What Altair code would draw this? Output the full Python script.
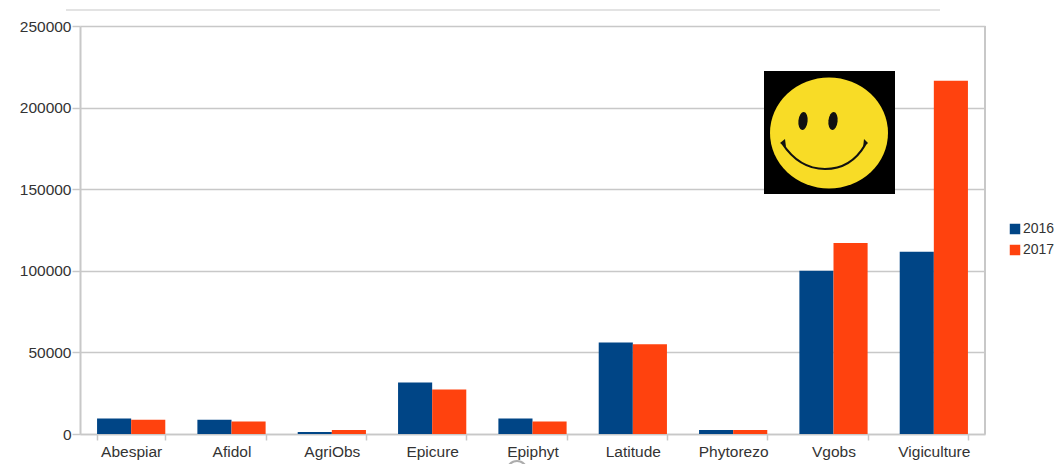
import altair as alt
import pandas as pd
from urllib.parse import quote

categories = ["Abespiar", "Afidol", "AgriObs", "Epicure", "Epiphyt", "Latitude", "Phytorezo", "Vgobs", "Vigiculture"]
values_2016 = [9500, 8700, 1200, 31500, 9500, 56000, 2500, 100000, 111700]
values_2017 = [8800, 7700, 2500, 27300, 7700, 55000, 2500, 117000, 216500]
series_names = ["2016", "2017"]
series_colors = ["#004586", "#ff420e"]
y_ticks = [0, 50000, 100000, 150000, 200000, 250000]

rows = []
for c, a, b in zip(categories, values_2016, values_2017):
    rows.append({"cat": c, "year": "2016", "v": a})
    rows.append({"cat": c, "year": "2017", "v": b})
df = pd.DataFrame(rows)

W, H = 905, 408
GRID = "#c8c8c8"
FONT = "Liberation Sans"

bars = alt.Chart(df).mark_bar(stroke=None).encode(
    x=alt.X("cat:N", sort=categories, title=None,
            scale=alt.Scale(paddingInner=0.32, paddingOuter=0.17),
            axis=alt.Axis(labelAngle=0, labelFont=FONT, labelFontSize=15.5, labelColor="#333333",
                          labelPadding=4, tickBand="extent", tickSize=6, tickColor=GRID,
                          domainColor=GRID, domainWidth=1.5, tickWidth=1.5, grid=False)),
    xOffset=alt.XOffset("year:N", sort=series_names),
    y=alt.Y("v:Q", title=None, scale=alt.Scale(domain=[0, 250000], nice=False),
            axis=alt.Axis(values=y_ticks, format="d", labelFont=FONT, labelFontSize=15.5,
                          labelColor="#333333", labelPadding=1, tickSize=8, tickColor=GRID,
                          tickWidth=1.5, domainColor=GRID, domainWidth=2, gridColor=GRID, gridWidth=1.5)),
    color=alt.Color("year:N", sort=series_names,
                    scale=alt.Scale(domain=series_names, range=series_colors),
                    legend=alt.Legend(title=None, orient="none", legendX=928, legendY=196,
                                      symbolType="square", symbolSize=110, symbolStrokeWidth=0,
                                      labelFont=FONT, labelFontSize=14, labelColor="#333333",
                                      labelOffset=1, rowPadding=7)),
)

smiley_svg = (
    "<svg xmlns='http://www.w3.org/2000/svg' viewBox='0 0 131 123'>"
    "<rect width='131' height='123' fill='#000'/>"
    "<ellipse cx='65' cy='62' rx='59' ry='55.5' fill='#f8dc26'/>"
    "<ellipse cx='39' cy='50' rx='4.6' ry='9' fill='#111' transform='rotate(6 39 50)'/>"
    "<ellipse cx='69' cy='50' rx='4.6' ry='9' fill='#111' transform='rotate(6 69 50)'/>"
    "<path d='M18 72 Q35 98 61 98 Q87 98 101 74' fill='none' stroke='#111' stroke-width='2.2'/>"
    "<path d='M16 72 L21 68 L22 76 Z M104 72 L100 68 L99 77 Z' fill='#111'/>"
    "</svg>"
)
smiley_url = "data:image/svg+xml," + quote(smiley_svg)
smiley = alt.Chart(pd.DataFrame({"u": [smiley_url]})).mark_image(
    width=131, height=123, aspect=False, clip=False
).encode(url="u:N", x=alt.value(749.5), y=alt.value(106.5))

top_rule = alt.Chart(pd.DataFrame({"k": [0]})).mark_rule(color="#c8c8c8", strokeWidth=1.2, clip=False).encode(
    x=alt.value(-14), x2=alt.value(860), y=alt.value(-16)
)
right_rule = alt.Chart(pd.DataFrame({"k": [0]})).mark_rule(color=GRID, strokeWidth=2).encode(
    x=alt.value(W), y=alt.value(0), y2=alt.value(H)
)
ring = alt.Chart(pd.DataFrame({"k": [0]})).mark_point(
    shape="circle", size=400, filled=False, color="#8a8a8a", strokeWidth=2.2, clip=False
).encode(x=alt.value(437), y=alt.value(445))

chart = alt.layer(right_rule, bars, top_rule, smiley, ring).properties(
    width=W, height=H,
    padding={"left": 72, "top": 18, "right": 71, "bottom": 30},
    autosize=alt.AutoSizeParams(type="none"),
).configure_view(stroke=None).configure_axis(labelOverlap=False)

chart.save("out.html", embed_options={"renderer": "svg", "actions": False})
